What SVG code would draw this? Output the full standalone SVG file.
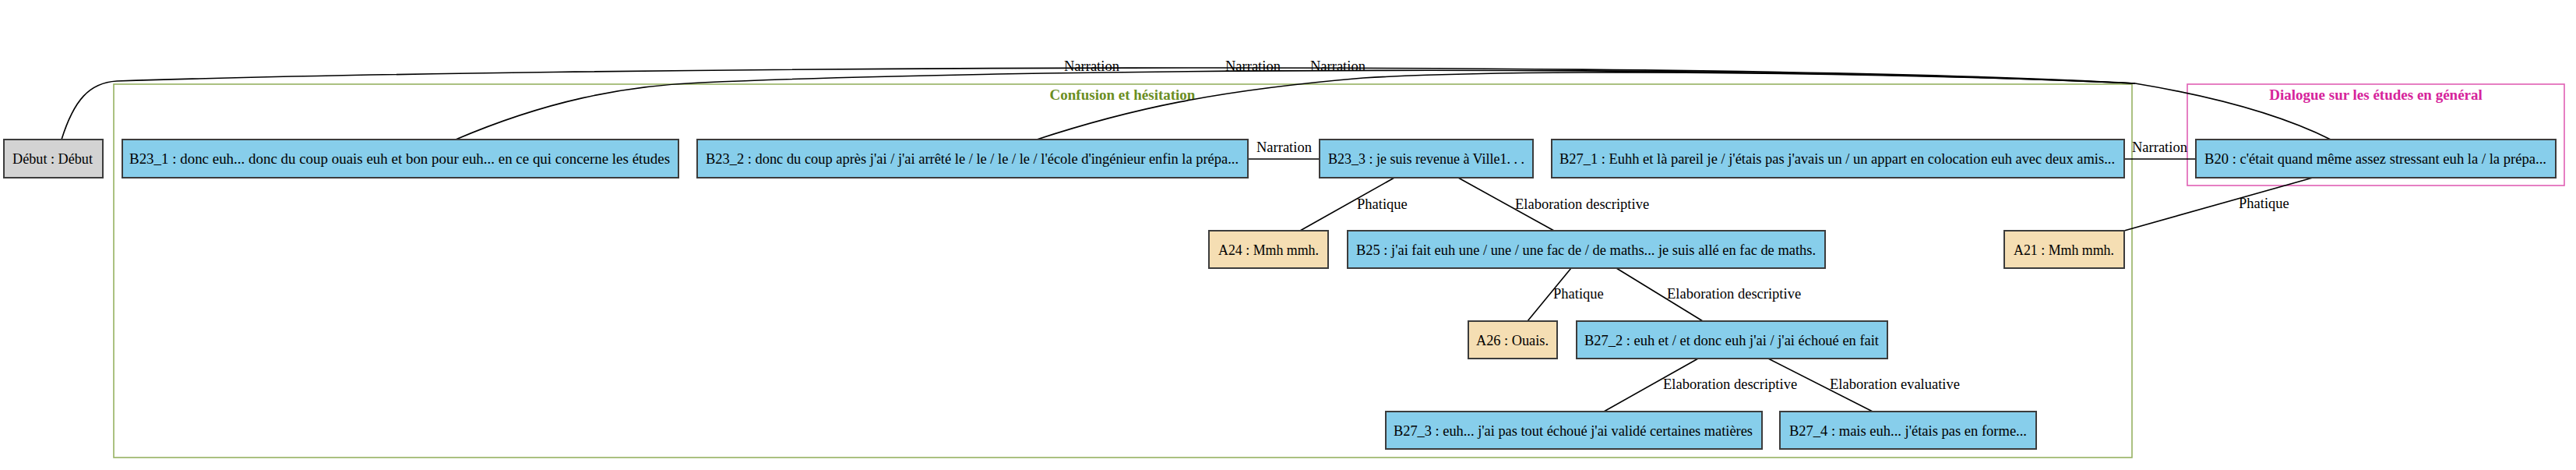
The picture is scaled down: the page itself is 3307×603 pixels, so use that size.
<svg xmlns="http://www.w3.org/2000/svg" width="3307" height="603" viewBox="0 0 3307 603">
<style>
text{font-family:"Liberation Serif","Times New Roman",serif;font-size:18.5px;fill:#000}
.n{text-anchor:middle}
.box{stroke:#3c3c3c;stroke-width:2}
.blue{fill:#87ceeb}
.wheat{fill:#f5deb3}
.grey{fill:#d3d3d3}
.e{fill:none;stroke:#000;stroke-width:1.6}
.cl{font-weight:bold;text-anchor:middle;font-size:19px}
</style>
<rect width="3307" height="603" fill="#fff"/>
<g id="cluster_confusion">
<rect x="146" y="108" width="2591" height="479" fill="none" stroke="#97b262" stroke-width="1.6"/>
<text class="cl" x="1441" y="128" style="fill:#6b8e23">Confusion et hésitation</text>
</g>
<g id="cluster_dialogue">
<rect x="2808" y="108" width="484" height="130" fill="none" stroke="#e060b4" stroke-width="1.6"/>
<text class="cl" x="3050" y="128" style="fill:#d6249b">Dialogue sur les études en général</text>
</g>
<g id="edges">
<path class="e" d="M79,179 C95,128 115,106 150,104 C700,86 2200,76 2741,107 C2850,125 2930,148 2992,179"/>
<path class="e" d="M585,179 C700,130 800,110 900,106 C1300,88 2200,82 2741,107"/>
<path class="e" d="M1331,179 C1450,140 1560,116 1750,100 C1950,88 2400,92 2741,107"/>
<text x="1366" y="91">Narration</text>
<text x="1573" y="91">Narration</text>
<text x="1682" y="91">Narration</text>
<path class="e" d="M1602,204 L1694,204"/>
<text x="1613" y="195">Narration</text>
<path class="e" d="M2727,204 L2819,204"/>
<text x="2737" y="195">Narration</text>
<path class="e" d="M1790,228 L1669,296"/>
<text x="1742" y="268">Phatique</text>
<path class="e" d="M1872,228 L1995,296"/>
<text x="1945" y="268">Elaboration descriptive</text>
<path class="e" d="M2969,228 L2727,296"/>
<text x="2874" y="267">Phatique</text>
<path class="e" d="M2017,344 L1961,412"/>
<text x="1994" y="383">Phatique</text>
<path class="e" d="M2075,344 L2186,412"/>
<text x="2140" y="383">Elaboration descriptive</text>
<path class="e" d="M2180,460 L2059,528"/>
<text x="2135" y="499">Elaboration descriptive</text>
<path class="e" d="M2270,460 L2404,528"/>
<text x="2349" y="499">Elaboration evaluative</text>
</g>
<g id="Debut"><rect class="box grey" x="5" y="179" width="127" height="49"/><text class="n" x="67.5" y="210" textLength="103" lengthAdjust="spacingAndGlyphs">Début : Début</text></g>
<g id="B23_1"><rect class="box blue" x="157" y="179" width="714" height="49"/><text class="n" x="513" y="210" textLength="694" lengthAdjust="spacingAndGlyphs">B23_1 : donc euh... donc du coup ouais euh et bon pour euh... en ce qui concerne les études</text></g>
<g id="B23_2"><rect class="box blue" x="895" y="179" width="707" height="49"/><text class="n" x="1248" y="210" textLength="684" lengthAdjust="spacingAndGlyphs">B23_2 : donc du coup après j'ai / j'ai arrêté le / le / le / le / l'école d'ingénieur enfin la prépa...</text></g>
<g id="B23_3"><rect class="box blue" x="1694" y="179" width="274" height="49"/><text class="n" x="1831" y="210" textLength="252" lengthAdjust="spacingAndGlyphs">B23_3 : je suis revenue à Ville1. . .</text></g>
<g id="B27_1"><rect class="box blue" x="1992" y="179" width="735" height="49"/><text class="n" x="2358.5" y="210" textLength="713" lengthAdjust="spacingAndGlyphs">B27_1 : Euhh et là pareil je / j'étais pas j'avais un / un appart en colocation euh avec deux amis...</text></g>
<g id="B20"><rect class="box blue" x="2819" y="179" width="462" height="49"/><text class="n" x="3049.5" y="210" textLength="439" lengthAdjust="spacingAndGlyphs">B20 : c'était quand même assez stressant euh la / la prépa...</text></g>
<g id="A24"><rect class="box wheat" x="1552" y="296" width="153" height="48"/><text class="n" x="1628.5" y="327" textLength="129" lengthAdjust="spacingAndGlyphs">A24 : Mmh mmh.</text></g>
<g id="B25"><rect class="box blue" x="1730" y="296" width="613" height="48"/><text class="n" x="2036" y="327" textLength="590" lengthAdjust="spacingAndGlyphs">B25 : j'ai fait euh une / une / une fac de / de maths... je suis allé en fac de maths.</text></g>
<g id="A21"><rect class="box wheat" x="2573" y="296" width="154" height="48"/><text class="n" x="2649.5" y="327" textLength="129" lengthAdjust="spacingAndGlyphs">A21 : Mmh mmh.</text></g>
<g id="A26"><rect class="box wheat" x="1885" y="412" width="114" height="48"/><text class="n" x="1941.5" y="443" textLength="93" lengthAdjust="spacingAndGlyphs">A26 : Ouais.</text></g>
<g id="B27_2"><rect class="box blue" x="2024" y="412" width="399" height="48"/><text class="n" x="2223" y="443" textLength="378" lengthAdjust="spacingAndGlyphs">B27_2 : euh et / et donc euh j'ai / j'ai échoué en fait</text></g>
<g id="B27_3"><rect class="box blue" x="1779" y="528" width="483" height="48"/><text class="n" x="2019.5" y="559" textLength="461" lengthAdjust="spacingAndGlyphs">B27_3 : euh... j'ai pas tout échoué j'ai validé certaines matières</text></g>
<g id="B27_4"><rect class="box blue" x="2285" y="528" width="329" height="48"/><text class="n" x="2449.5" y="559" textLength="305" lengthAdjust="spacingAndGlyphs">B27_4 : mais euh... j'étais pas en forme...</text></g>
</svg>
